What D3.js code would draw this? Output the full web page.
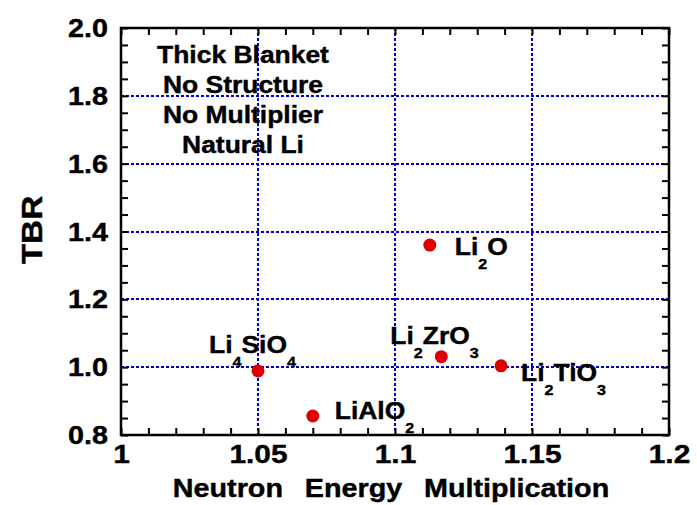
<!DOCTYPE html>
<html>
<head>
  <meta charset="utf-8">
  <title>TBR vs Neutron Energy Multiplication</title>
  <script src="https://d3js.org/d3.v7.min.js"></script>
  <style>
    body { margin: 0; background: #fff; }
    text { font-family: "Liberation Sans", Arial, sans-serif; font-weight: bold; fill: #000;
           stroke: #000; stroke-width: 0.4px; }
    .grid line { stroke: #0000cc; stroke-width: 2; stroke-dasharray: 3 2; }
  </style>
</head>
<body>
<svg width="697" height="505"></svg>
<script>
// data
var materials = ["Li4SiO4", "LiAlO2", "Li2O", "Li2ZrO3", "Li2TiO3"];
var nem = [1.05, 1.07, 1.1127, 1.1169, 1.1387];
var tbr = [0.989, 0.856, 1.360, 1.031, 1.004];
// formula pieces: [text, isSubscript]
var formulas = [
  [["Li", 0], ["4", 1], ["SiO", 0], ["4", 1]],
  [["LiAlO", 0], ["2", 1]],
  [["Li", 0], ["2", 1], ["O", 0]],
  [["Li", 0], ["2", 1], ["ZrO", 0], ["3", 1]],
  [["Li", 0], ["2", 1], ["TiO", 0], ["3", 1]]
];
var xTicks = [1, 1.05, 1.1, 1.15, 1.2];
var xTickLabels = ["1", "1.05", "1.1", "1.15", "1.2"];
var yTicks = [0.8, 1.0, 1.2, 1.4, 1.6, 1.8, 2.0];
var yTickLabels = ["0.8", "1.0", "1.2", "1.4", "1.6", "1.8", "2.0"];
var notes = ["Thick Blanket", "No Structure", "No Multiplier", "Natural Li"];

var svg = d3.select("svg");
var mLeft = 121, mTop = 28, w = 548, h = 407;
var sx = 1.15; // fonts in the picture are a bit wider than Liberation Sans

var x = d3.scaleLinear().domain([1, 1.2]).range([mLeft, mLeft + w]);
var y = d3.scaleLinear().domain([0.8, 2.0]).range([mTop + h, mTop]);

var xMinor = d3.range(0, 21).map(i => 1 + i * 0.01);
var yMinor = d3.range(0, 25).map(i => 0.8 + i * 0.05);

// grid (snapped to whole pixels so the dots stay crisp)
var grid = svg.append("g").attr("class", "grid");
grid.selectAll(".gx").data(xTicks.slice(1, -1)).enter().append("line")
  .attr("x1", d => Math.round(x(d))).attr("x2", d => Math.round(x(d)))
  .attr("y1", mTop).attr("y2", mTop + h);
grid.selectAll(".gy").data(yTicks.slice(1, -1)).enter().append("line")
  .attr("x1", mLeft).attr("x2", mLeft + w)
  .attr("y1", d => Math.round(y(d))).attr("y2", d => Math.round(y(d)));

// inward ticks on all four sides
function ticks(axis, tr) {
  var g = svg.append("g").attr("transform", tr).call(axis);
  g.select(".domain").remove();
  g.selectAll(".tick line").attr("stroke", "#000").attr("stroke-width", 2);
  return g;
}
ticks(d3.axisBottom(x).tickValues(xMinor).tickSize(-7).tickFormat(""), "translate(0," + (mTop + h) + ")");
ticks(d3.axisTop(x).tickValues(xMinor).tickSize(-7).tickFormat(""), "translate(0," + mTop + ")");
ticks(d3.axisLeft(y).tickValues(yMinor).tickSize(-7).tickFormat(""), "translate(" + mLeft + ",0)");
ticks(d3.axisRight(y).tickValues(yMinor).tickSize(-7).tickFormat(""), "translate(" + (mLeft + w) + ",0)");

// tick labels
var xl = svg.append("g")
  .attr("transform", "translate(0," + (mTop + h) + ")")
  .call(d3.axisBottom(x).tickValues(xTicks).tickSize(0).tickPadding(0)
    .tickFormat((d, i) => xTickLabels[i]));
xl.select(".domain").remove();
xl.selectAll("text").attr("font-size", 26).attr("font-family", null)
  .attr("y", 28).attr("dy", null)
  .attr("transform", "scale(" + sx + ",1)");

var yl = svg.append("g")
  .attr("transform", "translate(" + mLeft + ",0)")
  .call(d3.axisLeft(y).tickValues(yTicks).tickSize(0).tickPadding(0)
    .tickFormat((d, i) => yTickLabels[i]));
yl.select(".domain").remove();
yl.selectAll("text").attr("font-size", 25).attr("font-family", null)
  .attr("x", -13 / sx).attr("dy", "0.34em").attr("transform", "scale(" + sx + ",1)");

// frame
svg.append("rect")
  .attr("x", mLeft).attr("y", mTop).attr("width", w).attr("height", h)
  .attr("fill", "none").attr("stroke", "#000").attr("stroke-width", 2.5);

// axis titles
svg.append("text")
  .attr("transform", "translate(391,497) scale(" + sx + ",1)")
  .attr("text-anchor", "middle").attr("font-size", 25)
  .attr("word-spacing", 12)
  .text("Neutron Energy Multiplication");

svg.append("text")
  .attr("transform", "translate(42,230) rotate(-90) scale(" + sx + ",1)")
  .attr("text-anchor", "middle").attr("font-size", 29)
  .text("TBR");

// annotation
svg.append("g").selectAll("text").data(notes).enter().append("text")
  .attr("transform", (d, i) => "translate(243," + (63 + i * 30) + ") scale(" + sx + ",1)")
  .attr("text-anchor", "middle").attr("font-size", 23)
  .text(d => d);

// points
svg.append("g").selectAll("circle").data(materials).enter().append("circle")
  .attr("cx", (d, i) => x(nem[i])).attr("cy", (d, i) => y(tbr[i]))
  .attr("r", 6.5).attr("fill", "#dd0000");

// labels (offset from point in px)
var labelOffset = [[-49, -18], [22, 3], [25, 10], [-51, -13], [20, 15]];
var lab = svg.append("g").selectAll("text").data(materials).enter().append("text")
  .attr("transform", (d, i) => "translate(" + (x(nem[i]) + labelOffset[i][0]) + "," +
    (y(tbr[i]) + labelOffset[i][1]) + ") scale(" + sx + ",1)")
  .attr("font-size", 23);

lab.each(function(d, i) {
  var t = d3.select(this), prev = 0;
  formulas[i].forEach(function(p) {
    var shift = p[1] ? 14 : 0;
    t.append("tspan")
      .attr("dy", shift - prev)
      .attr("font-size", p[1] ? 14 : 23)
      .text(p[0]);
    prev = shift;
  });
});
</script>
</body>
</html>
